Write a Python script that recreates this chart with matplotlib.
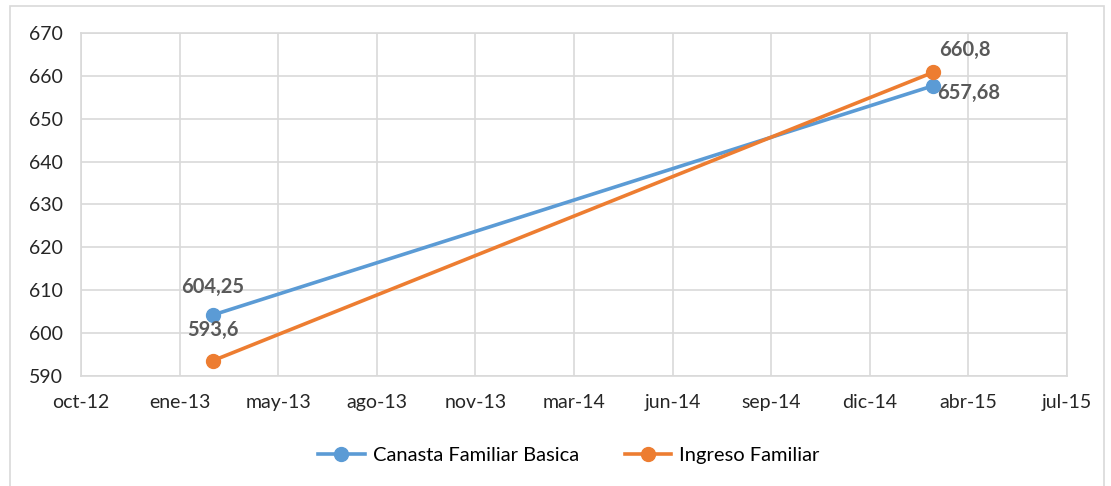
import matplotlib
matplotlib.use("Agg")
import matplotlib.pyplot as plt
import matplotlib.dates as mdates
from matplotlib.lines import Line2D
import numpy as np

# data
fechas = np.array(["2013-03-01", "2015-03-01"], dtype="datetime64[D]")
canasta = [604.25, 657.68]
ingreso = [593.6, 660.8]
canasta_lbl = ["604,25", "657,68"]
ingreso_lbl = ["593,6", "660,8"]
tick_labels = ["oct-12", "ene-13", "may-13", "ago-13", "nov-13", "mar-14",
               "jun-14", "sep-14", "dic-14", "abr-15", "jul-15"]

plt.rcParams["font.family"] = ["Lato", "DejaVu Sans"]

blue = "#5B9BD5"
orange = "#ED7D31"
grid_c = "#D9D9D9"

fig = plt.figure(figsize=(11.11, 4.86), dpi=100)
ax = fig.add_axes([81 / 1111, 1 - 376 / 486, (1067 - 81) / 1111, (376 - 33) / 486])

x = mdates.date2num(fechas)
ax.plot(x, canasta, color=blue, lw=2.6, marker="o", ms=10, label="Canasta Familiar Basica", zorder=3)
ax.plot(x, ingreso, color=orange, lw=2.6, marker="o", ms=10, label="Ingreso Familiar", zorder=3)

# axis: date ticks every 100 days starting 18-oct-2012
x0 = mdates.date2num(np.datetime64("2012-10-18"))
ticks = x0 + 100 * np.arange(len(tick_labels))
ax.set_xlim(ticks[0], ticks[-1])
ax.set_xticks(ticks)
ax.set_xticklabels(tick_labels)
ax.set_ylim(590, 670)
ax.set_yticks(np.arange(590, 671, 10))

ax.grid(True, color=grid_c, lw=1.2)
ax.set_axisbelow(True)
for s in ax.spines.values():
    s.set_color(grid_c)
    s.set_linewidth(1.2)
ax.tick_params(length=0, labelsize=14, colors="#262626")
ax.tick_params(axis="x", pad=13)
ax.tick_params(axis="y", pad=13)

# data labels
lbl_kw = dict(fontsize=14.5, fontweight="bold", color="#595959")
ax.annotate(canasta_lbl[0], (x[0], canasta[0]), xytext=(0, 20), textcoords="offset points",
            ha="center", va="center", **lbl_kw)
ax.annotate(ingreso_lbl[0], (x[0], ingreso[0]), xytext=(0, 22), textcoords="offset points",
            ha="center", va="center", **lbl_kw)
ax.annotate(ingreso_lbl[1], (x[1], ingreso[1]), xytext=(23, 16), textcoords="offset points",
            ha="center", va="center", **lbl_kw)
ax.annotate(canasta_lbl[1], (x[1], canasta[1]), xytext=(3, -5), textcoords="offset points",
            ha="left", va="center", **lbl_kw)

handles = [
    Line2D([0], [0], color=blue, lw=2.6, marker="o", ms=10, label="Canasta Familiar Basica"),
    Line2D([0], [0], color=orange, lw=2.6, marker="o", ms=10, label="Ingreso Familiar"),
]
fig.legend(handles=handles, loc="center", bbox_to_anchor=(569 / 1111, 1 - 455 / 486), ncol=2,
           frameon=False, fontsize=14.5, handlelength=2.3, handletextpad=0.4, columnspacing=2.3)

# chart border
fig.add_artist(plt.Rectangle((10 / 1111, -0.01), 1094 / 1111, 1 - 6 / 486 + 0.01,
                             transform=fig.transFigure, fill=False, ec=grid_c, lw=1.2))

plt.savefig("out.png", dpi=100)
